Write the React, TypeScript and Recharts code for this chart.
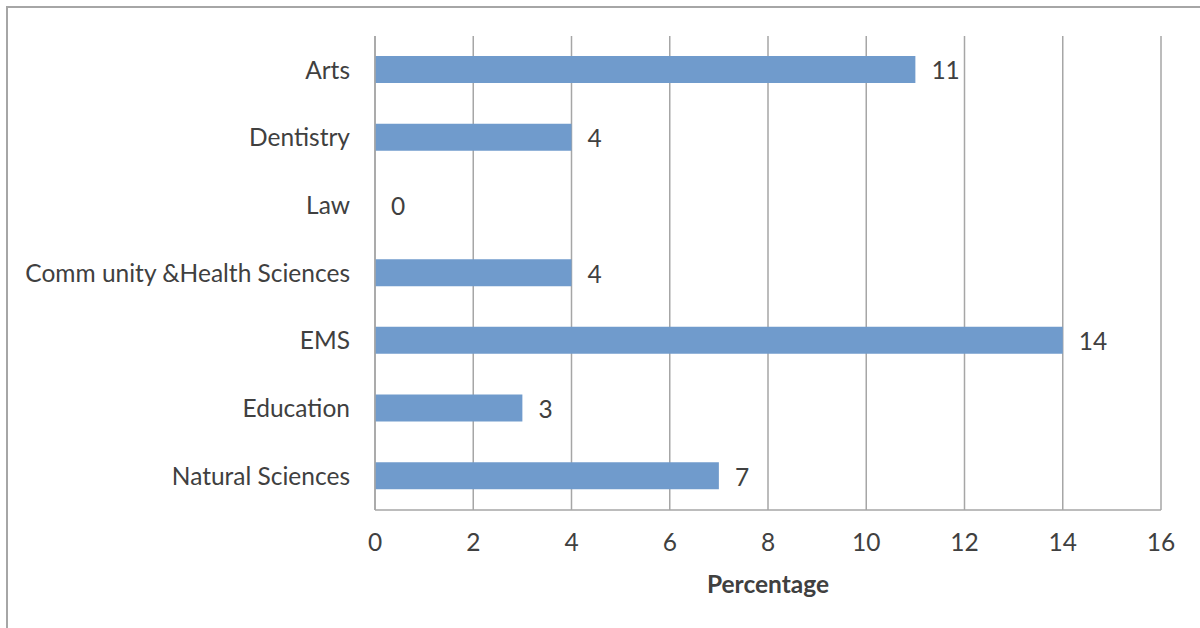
import React from 'react';
import { ComposedChart, Bar, Scatter, XAxis, YAxis, CartesianGrid } from 'recharts';

const faculties = [
  'Arts',
  'Dentistry',
  'Law',
  'Comm unity &Health Sciences',
  'EMS',
  'Education',
  'Natural Sciences',
];
const percentages = [11, 4, 0, 4, 14, 3, 7];
const xTicks = [0, 2, 4, 6, 8, 10, 12, 14, 16];

const chartData = faculties.map((name, i) => ({ name, value: percentages[i] }));

const font = 'Lato, "Open Sans", sans-serif';
const textColor = '#404040';
const gridColor = '#a6a6a6';
const fontSize = 24.5;

// value labels drawn as scatter shapes so the zero bar (Law) still gets one
const ValueLabel = (props: any) => {
  const { cx, cy, payload } = props;
  return (
    <text
      x={Number(cx) + 16}
      y={Number(cy)}
      dominantBaseline="central"
      fill={textColor}
      fontSize={fontSize}
      fontFamily={font}
    >
      {String(payload.value)}
    </text>
  );
};

export default function App() {
  return (
    <div style={{ position: 'absolute', left: 0, top: 0, width: 1200, height: 628, background: '#fff', overflow: 'hidden', fontFamily: font }}>
      <div style={{ position: 'absolute', left: 6, top: 6, width: 1210, height: 640, border: `2px solid ${gridColor}` }} />
      <div style={{ position: 'absolute', left: 0, top: 0 }}>
        <ComposedChart
          width={1200}
          height={628}
          data={chartData}
          layout="vertical"
          margin={{ top: 36, right: 39, bottom: 0, left: 0 }}
          barCategoryGap={0}
        >
          <CartesianGrid horizontal={false} stroke={gridColor} strokeWidth={1.5} />
          <XAxis
            type="number"
            dataKey="value"
            domain={[0, 16]}
            ticks={xTicks}
            height={118}
            stroke={gridColor}
            strokeWidth={1.5}
            tickLine={false}
            tickSize={8}
            tickMargin={16}
            tick={{ fill: textColor, fontSize, fontFamily: font }}
            label={{ value: 'Percentage', position: 'insideTop', offset: 66, fill: textColor, fontSize, fontWeight: 'bold', fontFamily: font }}
          />
          <YAxis
            type="category"
            dataKey="name"
            width={375}
            stroke={gridColor}
            strokeWidth={1.5}
            tickLine={false}
            tickSize={8}
            tickMargin={17}
            interval={0}
            tick={{ fill: textColor, fontSize, fontFamily: font }}
          />
          <Bar dataKey="value" fill="#709bcc" barSize={27} isAnimationActive={false} />
          <Scatter dataKey="value" shape={ValueLabel} isAnimationActive={false} />
        </ComposedChart>
      </div>
    </div>
  );
}
